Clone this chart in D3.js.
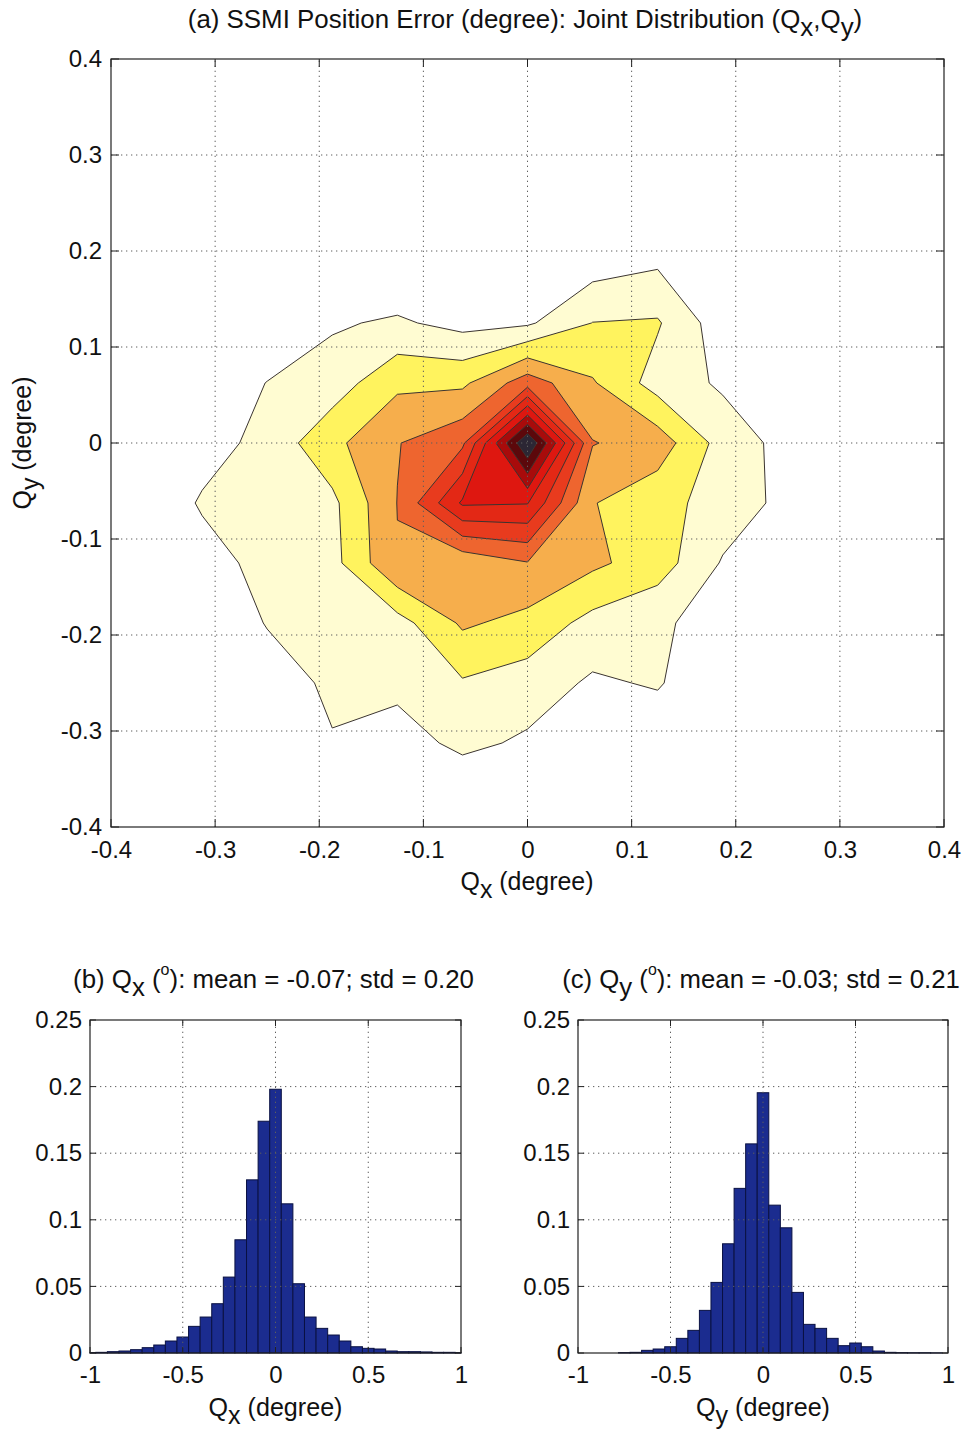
<!DOCTYPE html>
<html><head><meta charset="utf-8">
<script src="https://cdn.jsdelivr.net/npm/d3@7"></script>
<style>
body{margin:0;background:#fff;}
svg text{font-family:"Liberation Sans",Arial,Helvetica,sans-serif;fill:#111;}
</style></head><body>
<svg id="fig" width="966" height="1433"></svg>
<script>
// ---- joint distribution (Qx,Qy): 2-D histogram on a 1/16 degree grid, in contour-level units ----
const gridStep = 1 / 16;
const gridCols = [-7, -6, -5, -4, -3, -2, -1, 0, 1, 2, 3, 4, 5];      // Qx bin index
const gridRows = [4, 3, 2, 1, 0, -1, -2, -3, -4, -5, -6, -7];          // Qy bin index, top row first
const jointDensity = [
  [0, 0, 0, 0,    0,     0,    0,    0,    0,    0,    0,    0,    0],
  [0, 0, 0, 0,    0,     0,    0.2,  0.3,  0.53, 0.87, 0.2,  0,    0],
  [0, 0, 0, 0.35, 0.88,  1.15, 0.67, 0.85, 2.02, 2.1,  0.43, 0,    0],
  [0, 0, 0.4, 1.02, 1.48, 2.78, 2.8,  4.55, 3.1,  1.57, 0.85, 0.2,  0],
  [0, 0, 0.55, 1.33, 2.73, 3.95, 4.8, 11,   4.05, 3.55, 1.59, 0.65, 0],
  [0, 0, 1.12, 1.45, 1.76, 4.02, 7.15, 7.05, 3.05, 2.35, 1.59, 0.7, 0],
  [0, 0, 0.55, 1.35, 1.66, 3.95, 3.26, 3.95, 3.21, 2.49, 0.91, 0.1, 0],
  [0, 0, 0.3, 1.045, 1.45, 1.6,  3.15, 2.68, 1.66, 1.17, 0.56, 0,   0],
  [0, 0, 0,   0.6,  1.15, 1.26, 1.9,  1.53, 0.85, 1.1,  0.1,  0,    0],
  [0, 0, 0,   0.2,  0.95, 0.55, 1.25, 0.84, 0.3,  0.27, 0,    0,    0],
  [0, 0, 0, 0,    0,     0,    0,    0,    0,    0,    0,    0,    0],
  [0, 0, 0, 0,    0,     0,    0,    0,    0,    0,    0,    0,    0]
];
const contourLevels = [1, 2, 3, 4, 5, 6, 7, 8, 9, 10];
const levelColors = ["#FFFCD2", "#FFF35E", "#F6AE4C", "#EE652F", "#E83B1E",
                     "#E32815", "#DE1710", "#A80B0B", "#5C080B", "#2C2634"];
const jointTicks = [-0.4, -0.3, -0.2, -0.1, 0, 0.1, 0.2, 0.3, 0.4];

// ---- marginal histograms ----
const binWidth = 0.0625;
const binIndex = d3.range(-16, 17);
const qxFreq = [0.0003, 0.0005, 0.001, 0.0015, 0.0025, 0.004, 0.006, 0.009, 0.012, 0.020, 0.027,
                0.037, 0.057, 0.085, 0.130, 0.174, 0.198, 0.112, 0.052, 0.027, 0.0185, 0.0135,
                0.009, 0.0047, 0.0035, 0.003, 0.0015, 0.001, 0.001, 0.0008, 0.0005, 0.0005, 0.0003];
const qyFreq = [0, 0, 0, 0, 0.0003, 0.0005, 0.002, 0.003, 0.0047, 0.011, 0.017,
                0.032, 0.053, 0.082, 0.1236, 0.157, 0.1954, 0.111, 0.094, 0.0455, 0.0215, 0.0185,
                0.011, 0.0055, 0.0075, 0.0047, 0.0015, 0.0005, 0.0003, 0.0002, 0.0002, 0.0001, 0];
const histXTicks = [-1, -0.5, 0, 0.5, 1];
const histYTicks = [0, 0.05, 0.1, 0.15, 0.2, 0.25];

const svg = d3.select("#fig");
const fmt = d => String(+d.toFixed(2));
const FONT = 22;
const TICK_FONT = 24;

// text with sub/superscripts; parts: [text, mode] where mode is "sub" | "sup" | undefined
function richText(g, parts, x, y, opts = {}) {
  const t = g.append("text").attr("x", x).attr("y", y)
    .attr("text-anchor", opts.anchor || "middle");
  if (opts.rotate) t.attr("transform", `rotate(${opts.rotate},${x},${y})`);
  const spans = parts.map(([s, mode]) => {
    const sp = t.append("tspan").text(s);
    if (mode === "sup") sp.style("font-size", "0.62em");
    return sp;
  });
  function layout(size) {
    t.style("font-size", size + "px");
    let shift = 0;
    spans.forEach((sp, i) => {
      const mode = parts[i][1];
      const target = mode === "sub" ? 0.32 : mode === "sup" ? -0.5 : 0;
      const dyEm = target - shift;
      sp.attr("dy", dyEm !== 0 ? (dyEm * size) + "px" : null);
      shift = target;
    });
  }
  let size = opts.size || FONT;
  layout(size);
  if (opts.width) {
    size = size * opts.width / t.node().getComputedTextLength();
    layout(size);
  }
  return t;
}

function frame(g, xs, ys, xTicks, yTicks, tickLen) {
  const [x0, x1] = xs.range(), [y0, y1] = ys.range();
  // dotted grid
  const grid = g.append("g").attr("stroke", "#5e5e5e").attr("stroke-width", 1)
    .attr("stroke-dasharray", "1.3,3.7");
  xTicks.slice(1, -1).forEach(v => grid.append("line")
    .attr("x1", xs(v)).attr("x2", xs(v)).attr("y1", y0).attr("y2", y1));
  yTicks.slice(1, -1).forEach(v => grid.append("line")
    .attr("y1", ys(v)).attr("y2", ys(v)).attr("x1", x0).attr("x2", x1));
  // inward ticks on all four sides
  const tk = g.append("g").attr("stroke", "#222").attr("stroke-width", 1);
  xTicks.forEach(v => {
    tk.append("line").attr("x1", xs(v)).attr("x2", xs(v)).attr("y1", y0).attr("y2", y0 - tickLen);
    tk.append("line").attr("x1", xs(v)).attr("x2", xs(v)).attr("y1", y1).attr("y2", y1 + tickLen);
  });
  yTicks.forEach(v => {
    tk.append("line").attr("y1", ys(v)).attr("y2", ys(v)).attr("x1", x0).attr("x2", x0 + tickLen);
    tk.append("line").attr("y1", ys(v)).attr("y2", ys(v)).attr("x1", x1).attr("x2", x1 - tickLen);
  });
  g.append("rect").attr("x", x0).attr("y", y1).attr("width", x1 - x0).attr("height", y0 - y1)
    .attr("fill", "none").attr("stroke", "#222").attr("stroke-width", 1.2);
}

function tickLabels(g, xs, ys, xTicks, yTicks, size, xOff, yOff) {
  const [x0] = xs.range(), [y0] = ys.range();
  const ax = g.append("g").attr("transform", `translate(0,${y0})`)
    .call(d3.axisBottom(xs).tickValues(xTicks).tickSize(0).tickPadding(xOff).tickFormat(fmt));
  const ay = g.append("g").attr("transform", `translate(${x0},0)`)
    .call(d3.axisLeft(ys).tickValues(yTicks).tickSize(0).tickPadding(yOff).tickFormat(fmt));
  [ax, ay].forEach(a => {
    a.select(".domain").remove();
    a.selectAll("text").style("font-size", size + "px")
      .style("font-family", '"Liberation Sans",Arial,sans-serif').attr("fill", "#111");
  });
}

// ================= (a) joint distribution =================
const jx = d3.scaleLinear().domain([-0.4, 0.4]).range([111, 944]);
const jy = d3.scaleLinear().domain([-0.4, 0.4]).range([827, 59]);
const gA = svg.append("g");

const nx = gridCols.length, ny = gridRows.length;
const contours = d3.contours().size([nx, ny]).thresholds(contourLevels)(jointDensity.flat());
const toPlot = d3.geoTransform({
  point(px, py) {
    const qx = (gridCols[0] + px - 0.5) * gridStep;
    const qy = (gridRows[0] - (py - 0.5)) * gridStep;
    this.stream.point(jx(qx), jy(qy));
  }
});
const cpath = d3.geoPath(toPlot);
gA.append("g").selectAll("path").data(contours).join("path")
  .attr("d", cpath)
  .attr("fill", (d, i) => levelColors[i])
  .attr("stroke", "#3b3430").attr("stroke-width", 1).attr("stroke-linejoin", "round");

frame(gA, jx, jy, jointTicks, jointTicks, 8);
tickLabels(gA, jx, jy, jointTicks, jointTicks, TICK_FONT, 14, 9);

richText(svg, [["(a) SSMI Position Error (degree): Joint Distribution (Q"], ["x", "sub"], [","], ["Q"], ["y", "sub"], [")"]],
  525, 28, { width: 675 });
richText(svg, [["Q"], ["x", "sub"], [" (degree)"]], 527, 890, { width: 133 });
richText(svg, [["Q"], ["y", "sub"], [" (degree)"]], 31, 443, { width: 133, rotate: -90 });

// ================= (b), (c) marginal histograms =================
function histogram(freq, left, right, title, titleX, titleW, sym) {
  const hx = d3.scaleLinear().domain([-1, 1]).range([left, right]);
  const hy = d3.scaleLinear().domain([0, 0.25]).range([1353, 1020]);
  const g = svg.append("g");
  const bins = binIndex.map((k, i) => ({
    lo: Math.max(-1, k * binWidth - binWidth / 2),
    hi: Math.min(1, k * binWidth + binWidth / 2),
    v: freq[i]
  }));
  g.append("g").selectAll("rect").data(bins.filter(b => b.v > 0)).join("rect")
    .attr("x", b => hx(b.lo)).attr("width", b => hx(b.hi) - hx(b.lo))
    .attr("y", b => hy(b.v)).attr("height", b => hy(0) - hy(b.v))
    .attr("fill", "#1b2c8f").attr("stroke", "#0a1142").attr("stroke-width", 1);
  frame(g, hx, hy, histXTicks, histYTicks, 6);
  tickLabels(g, hx, hy, histXTicks, histYTicks, TICK_FONT, 13, 8);
  richText(svg, title, titleX, 988, { width: titleW });
  richText(svg, [["Q"], [sym, "sub"], [" (degree)"]], (left + right) / 2, 1416, { width: 134 });
}
histogram(qxFreq, 90, 461,
  [["(b) Q"], ["x", "sub"], [" ("], ["o", "sup"], ["): mean = -0.07; std = 0.20"]], 273.5, 401, "x");
histogram(qyFreq, 578, 948,
  [["(c) Q"], ["y", "sub"], [" ("], ["o", "sup"], ["): mean = -0.03; std = 0.21"]], 761, 398, "y");
</script>
</body></html>
